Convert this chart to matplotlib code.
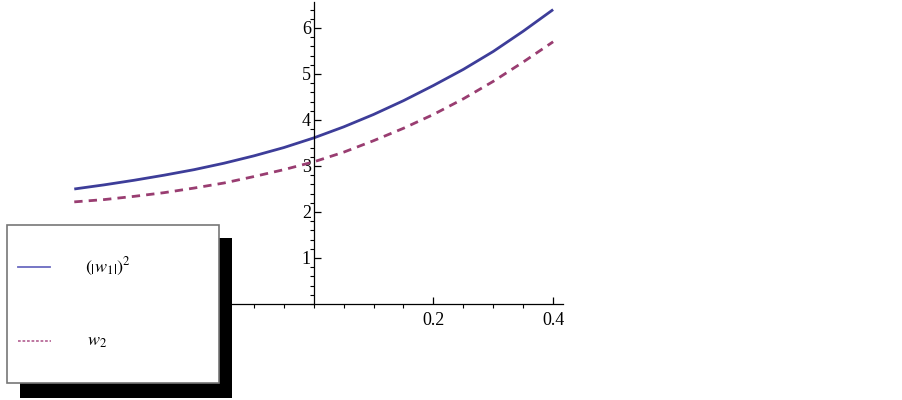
import matplotlib
matplotlib.use("Agg")
import matplotlib.pyplot as plt
from matplotlib.patches import Rectangle
from matplotlib.lines import Line2D
from matplotlib.ticker import MultipleLocator

# values
x_vals = [-0.40, -0.35, -0.30, -0.25, -0.20, -0.15, -0.10, -0.05, 0.00,
          0.05, 0.10, 0.15, 0.20, 0.25, 0.30, 0.35, 0.40]
w1_sq = [2.50, 2.59, 2.69, 2.80, 2.92, 3.06, 3.22, 3.40, 3.61,
         3.85, 4.12, 4.42, 4.75, 5.10, 5.49, 5.93, 6.40]
w2 = [2.22, 2.27, 2.34, 2.42, 2.52, 2.63, 2.77, 2.92, 3.09,
      3.30, 3.55, 3.82, 4.12, 4.46, 4.84, 5.26, 5.70]
x_ticks = [-0.4, -0.2, 0.2, 0.4]
y_ticks = [1, 2, 3, 4, 5, 6]
labels = [r"$\left(\left|w_1\right|\right)^2$", r"$w_2$"]

blue = "#3d3d99"
purple = "#993d71"

plt.rcParams["font.family"] = "Liberation Serif"
plt.rcParams["mathtext.fontset"] = "stix"

W, H = 903, 400
fig = plt.figure(figsize=(W / 100, H / 100), dpi=100)
ax = fig.add_axes([64.1 / W, (H - 304) / H, 499.2 / W, 302 / H])

ax.plot(x_vals, w1_sq, color=blue, lw=2.0, solid_capstyle="butt")
ax.plot(x_vals, w2, color=purple, lw=2.0, dashes=(3.0, 2.2))

ax.set_xlim(-0.417, 0.417)
ax.set_ylim(0, 6.565)
for s in ["top", "right"]:
    ax.spines[s].set_visible(False)
ax.spines["left"].set_position(("data", 0))
ax.spines["bottom"].set_position(("data", 0))
for s in ["left", "bottom"]:
    ax.spines[s].set_linewidth(0.9)

ax.set_xticks(x_ticks)
ax.set_xticklabels([f"{v:g}" for v in x_ticks])
ax.set_yticks(y_ticks)
ax.xaxis.set_minor_locator(MultipleLocator(0.05))
ax.yaxis.set_minor_locator(MultipleLocator(0.2))
ax.tick_params(direction="in", labelsize=13)
ax.tick_params(axis="x", which="major", length=5, width=0.9, pad=6)
ax.tick_params(axis="y", which="major", length=5, width=0.9, pad=2)
ax.tick_params(which="minor", length=3, width=0.8)

# legend box with drop shadow, drawn in pixel coords
def px(x0, y0, w, h):
    return (x0 / W, (H - y0 - h) / H), w / W, h / H

xy, w, h = px(20, 238, 212, 160)
fig.patches.append(Rectangle(xy, w, h, transform=fig.transFigure,
                             facecolor="black", edgecolor="none", zorder=10))
xy, w, h = px(7, 225, 212, 158)
fig.patches.append(Rectangle(xy, w, h, transform=fig.transFigure,
                             facecolor="white", edgecolor="#777777",
                             lw=1.2, zorder=11))

fig.lines.append(Line2D([18 / W, 50 / W], [(H - 267) / H] * 2,
                        transform=fig.transFigure, color="#6a6ac0",
                        lw=1.3, zorder=12))
fig.lines.append(Line2D([18 / W, 51 / W], [(H - 341) / H] * 2,
                        transform=fig.transFigure, color="#b86a98",
                        lw=1.3, dashes=(1.5, 1.0), zorder=12))
fig.text(85 / W, (H - 267) / H, labels[0], fontsize=13, va="center",
         ha="left", zorder=13)
fig.text(87 / W, (H - 341) / H, labels[1], fontsize=13, va="center",
         ha="left", zorder=13)

fig.savefig("out.png", dpi=100)
